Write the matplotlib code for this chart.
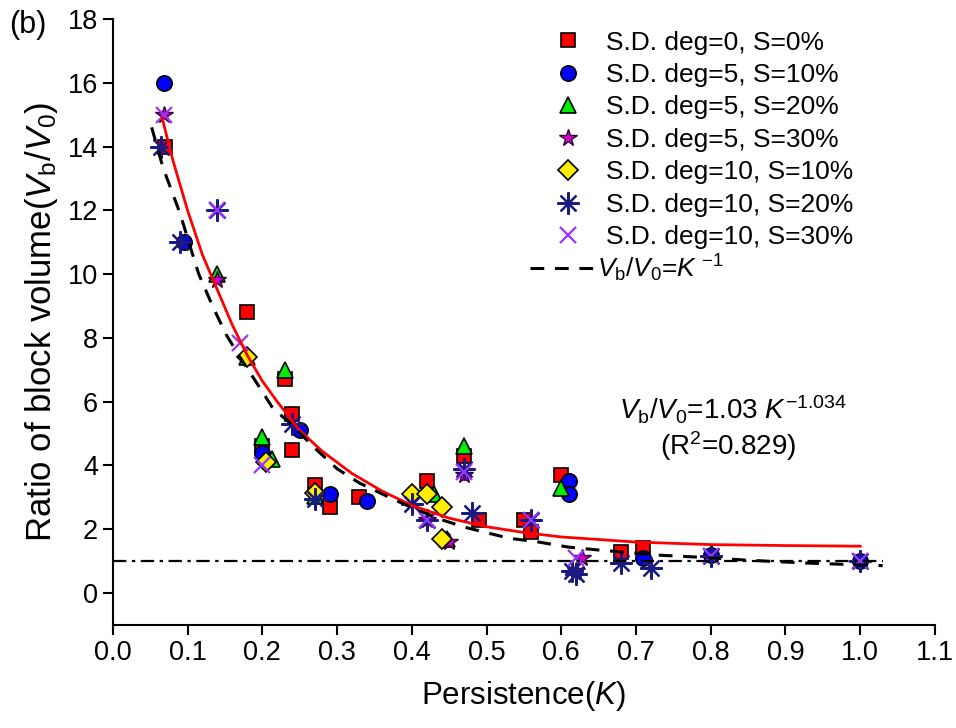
import matplotlib
matplotlib.use("Agg")
import matplotlib.pyplot as plt
from matplotlib.lines import Line2D

plt.rcParams['font.family'] = ['Liberation Sans', 'DejaVu Sans']
plt.rcParams['mathtext.fontset'] = 'custom'
plt.rcParams['mathtext.rm'] = 'Liberation Sans'
plt.rcParams['mathtext.it'] = 'Liberation Sans:italic'

# --- data ---
sq_k = [0.07, 0.18, 0.23, 0.24, 0.24, 0.20, 0.27, 0.29, 0.33, 0.42, 0.47, 0.49, 0.55, 0.56, 0.60, 0.68, 0.71]
sq_v = [14.0, 8.8, 6.7, 5.6, 4.5, 4.6, 3.4, 2.7, 3.0, 3.5, 4.3, 2.3, 2.3, 1.9, 3.7, 1.3, 1.4]

ci_k = [0.068, 0.095, 0.20, 0.25, 0.29, 0.34, 0.61, 0.61, 0.71, 0.80, 1.00]
ci_v = [16.0, 11.0, 4.4, 5.1, 3.1, 2.9, 3.5, 3.1, 1.1, 1.2, 1.0]

tr_k = [0.14, 0.18, 0.23, 0.20, 0.213, 0.27, 0.43, 0.447, 0.47, 0.60]
tr_v = [10.0, 7.4, 7.0, 4.9, 4.2, 3.05, 3.1, 1.7, 4.6, 3.3]

st_k = [0.068, 0.14, 0.42, 0.45, 0.47, 0.62, 0.628]
st_v = [15.0, 9.8, 2.3, 1.6, 3.7, 0.7, 1.1]

di_k = [0.18, 0.205, 0.27, 0.40, 0.42, 0.44, 0.44]
di_v = [7.4, 4.1, 3.15, 3.1, 3.1, 2.7, 1.7]

as_k = [0.065, 0.09, 0.14, 0.24, 0.27, 0.40, 0.42, 0.47, 0.48, 0.56, 0.62, 0.615, 0.68, 0.72, 0.80, 1.00]
as_v = [14.0, 11.0, 12.0, 5.3, 2.95, 2.8, 2.3, 3.9, 2.5, 2.3, 0.6, 0.7, 0.95, 0.8, 1.15, 1.0]

xx_k = [0.068, 0.14, 0.17, 0.20, 0.42, 0.47, 0.56, 0.62, 0.80, 1.00]
xx_v = [15.0, 12.0, 7.85, 4.0, 2.3, 3.8, 2.3, 1.1, 1.15, 1.0]

# fitted curve Vb/V0 = 1.03 K^-1.034 (traced)
fit_k = [0.066, 0.08, 0.10, 0.12, 0.14, 0.16, 0.18, 0.20, 0.22, 0.25, 0.28, 0.32, 0.36,
         0.40, 0.45, 0.50, 0.55, 0.60, 0.70, 0.80, 0.90, 1.00]
fit_v = [14.9, 13.6, 12.0, 10.6, 9.5, 8.4, 7.45, 6.65, 6.0, 5.1, 4.45, 3.75, 3.2,
         2.75, 2.35, 2.08, 1.9, 1.76, 1.6, 1.52, 1.49, 1.47]

# reference curve Vb/V0 = K^-1 (traced)
ref_k = [0.052, 0.067, 0.09, 0.105, 0.115, 0.134, 0.152, 0.17, 0.19, 0.214, 0.237, 0.27,
         0.30, 0.33, 0.37, 0.40, 0.44, 0.47, 0.53, 0.57, 0.61, 0.65, 0.73, 0.78, 0.85, 0.93, 1.03]
ref_v = [14.6, 13.35, 11.9, 10.75, 10.0, 8.97, 8.09, 7.4, 6.68, 5.8, 5.33, 4.55,
         3.9, 3.45, 3.0, 2.68, 2.3, 2.07, 1.72, 1.6, 1.44, 1.35, 1.19, 1.13, 1.03, 0.94, 0.86]

base_k = [0.0, 1.03]
base_v = [1.0, 1.0]

labels = ['S.D. deg=0, S=0%', 'S.D. deg=5, S=10%', 'S.D. deg=5, S=20%', 'S.D. deg=5, S=30%',
          'S.D. deg=10, S=10%', 'S.D. deg=10, S=20%', 'S.D. deg=10, S=30%']

# --- figure ---
fig = plt.figure(figsize=(9.56, 7.28), dpi=100)
ax = fig.add_axes([0.118, 0.1415, 0.860, 0.8325])

ax.plot(sq_k, sq_v, ls='none', marker='s', ms=10, mfc='#ff0000', mec='black', mew=1.2, label=labels[0])
ax.plot(ci_k, ci_v, ls='none', marker='o', ms=11, mfc='#0000ff', mec='black', mew=1.2, label=labels[1])
ax.plot(tr_k, tr_v, ls='none', marker='^', ms=12, mfc='#00ee00', mec='black', mew=1.2, label=labels[2])
ax.plot(st_k, st_v, ls='none', marker='*', ms=13, mfc='#cc00cc', mec='#330033', mew=1.0, label=labels[3])
ax.plot(di_k, di_v, ls='none', marker='D', ms=10, mfc='#ffee00', mec='black', mew=1.2, label=labels[4])
ax.plot(as_k, as_v, ls='none', marker=(8, 2, 0), ms=16, mec='#1a1a80', mew=1.6, label=labels[5])
ax.plot(xx_k, xx_v, ls='none', marker='x', ms=12, mec='#9933ff', mew=1.6, label=labels[6])

ax.plot(fit_k, fit_v, color='#ff0000', lw=2, zorder=5)
ax.plot(ref_k, ref_v, color='black', lw=2.2, ls=(0, (4.5, 3.5)), zorder=5)
ax.plot(base_k, base_v, color='black', lw=1.6, ls=(0, (6, 2.5, 1.5, 2.5)), zorder=4)

ax.set_xlim(0, 1.1)
ax.set_ylim(-1, 18)
ax.set_xticks([i / 10 for i in range(12)])
ax.set_xticklabels(['%.1f' % (i / 10) for i in range(12)])
ax.set_yticks(range(0, 19, 2))
for s in ['top', 'right']:
    ax.spines[s].set_visible(False)
for s in ['left', 'bottom']:
    ax.spines[s].set_linewidth(1.5)
ax.tick_params(direction='out', length=7, width=1.5, labelsize=19.5)

ax.set_xlabel('Persistence($K$)', fontsize=22.5, labelpad=10)
ax.set_ylabel('Ratio of block volume($V_{\\mathrm{b}}/V_{0}$)', fontsize=25, labelpad=6)

# marker legend
leg1 = ax.legend(loc='upper left', bbox_to_anchor=(0.5654, 0.958), bbox_transform=fig.transFigure,
                 frameon=False, fontsize=19, handlelength=2.08, handletextpad=0.4,
                 labelspacing=0.32, borderpad=0, borderaxespad=0)
ax.add_artist(leg1)

# dashed reference-line legend
leg2 = ax.legend([Line2D([], [], color='black', lw=2.2, ls=(0, (4.5, 3.5)))],
                 ['$V_{\\mathrm{b}}/V_{0}$=$K^{\\ \\mathrm{-1}}$'],
                 loc='center left', bbox_to_anchor=(0.554, 0.631), bbox_transform=fig.transFigure,
                 frameon=False, fontsize=19, handlelength=2.46, handletextpad=0.1,
                 borderpad=0, borderaxespad=0)

ax.text(0.766, 0.424, '$V_{\\mathrm{b}}/V_{0}$=1.03 $K^{\\mathrm{-1.034}}$', transform=fig.transFigure,
        ha='center', va='baseline', fontsize=20)
ax.text(0.762, 0.375, '(R$^{\\mathrm{2}}$=0.829)', transform=fig.transFigure,
        ha='center', va='baseline', fontsize=20)
fig.text(0.010, 0.966, '(b)', fontsize=22, ha='left', va='center')

fig.savefig('out.png', dpi=100)
